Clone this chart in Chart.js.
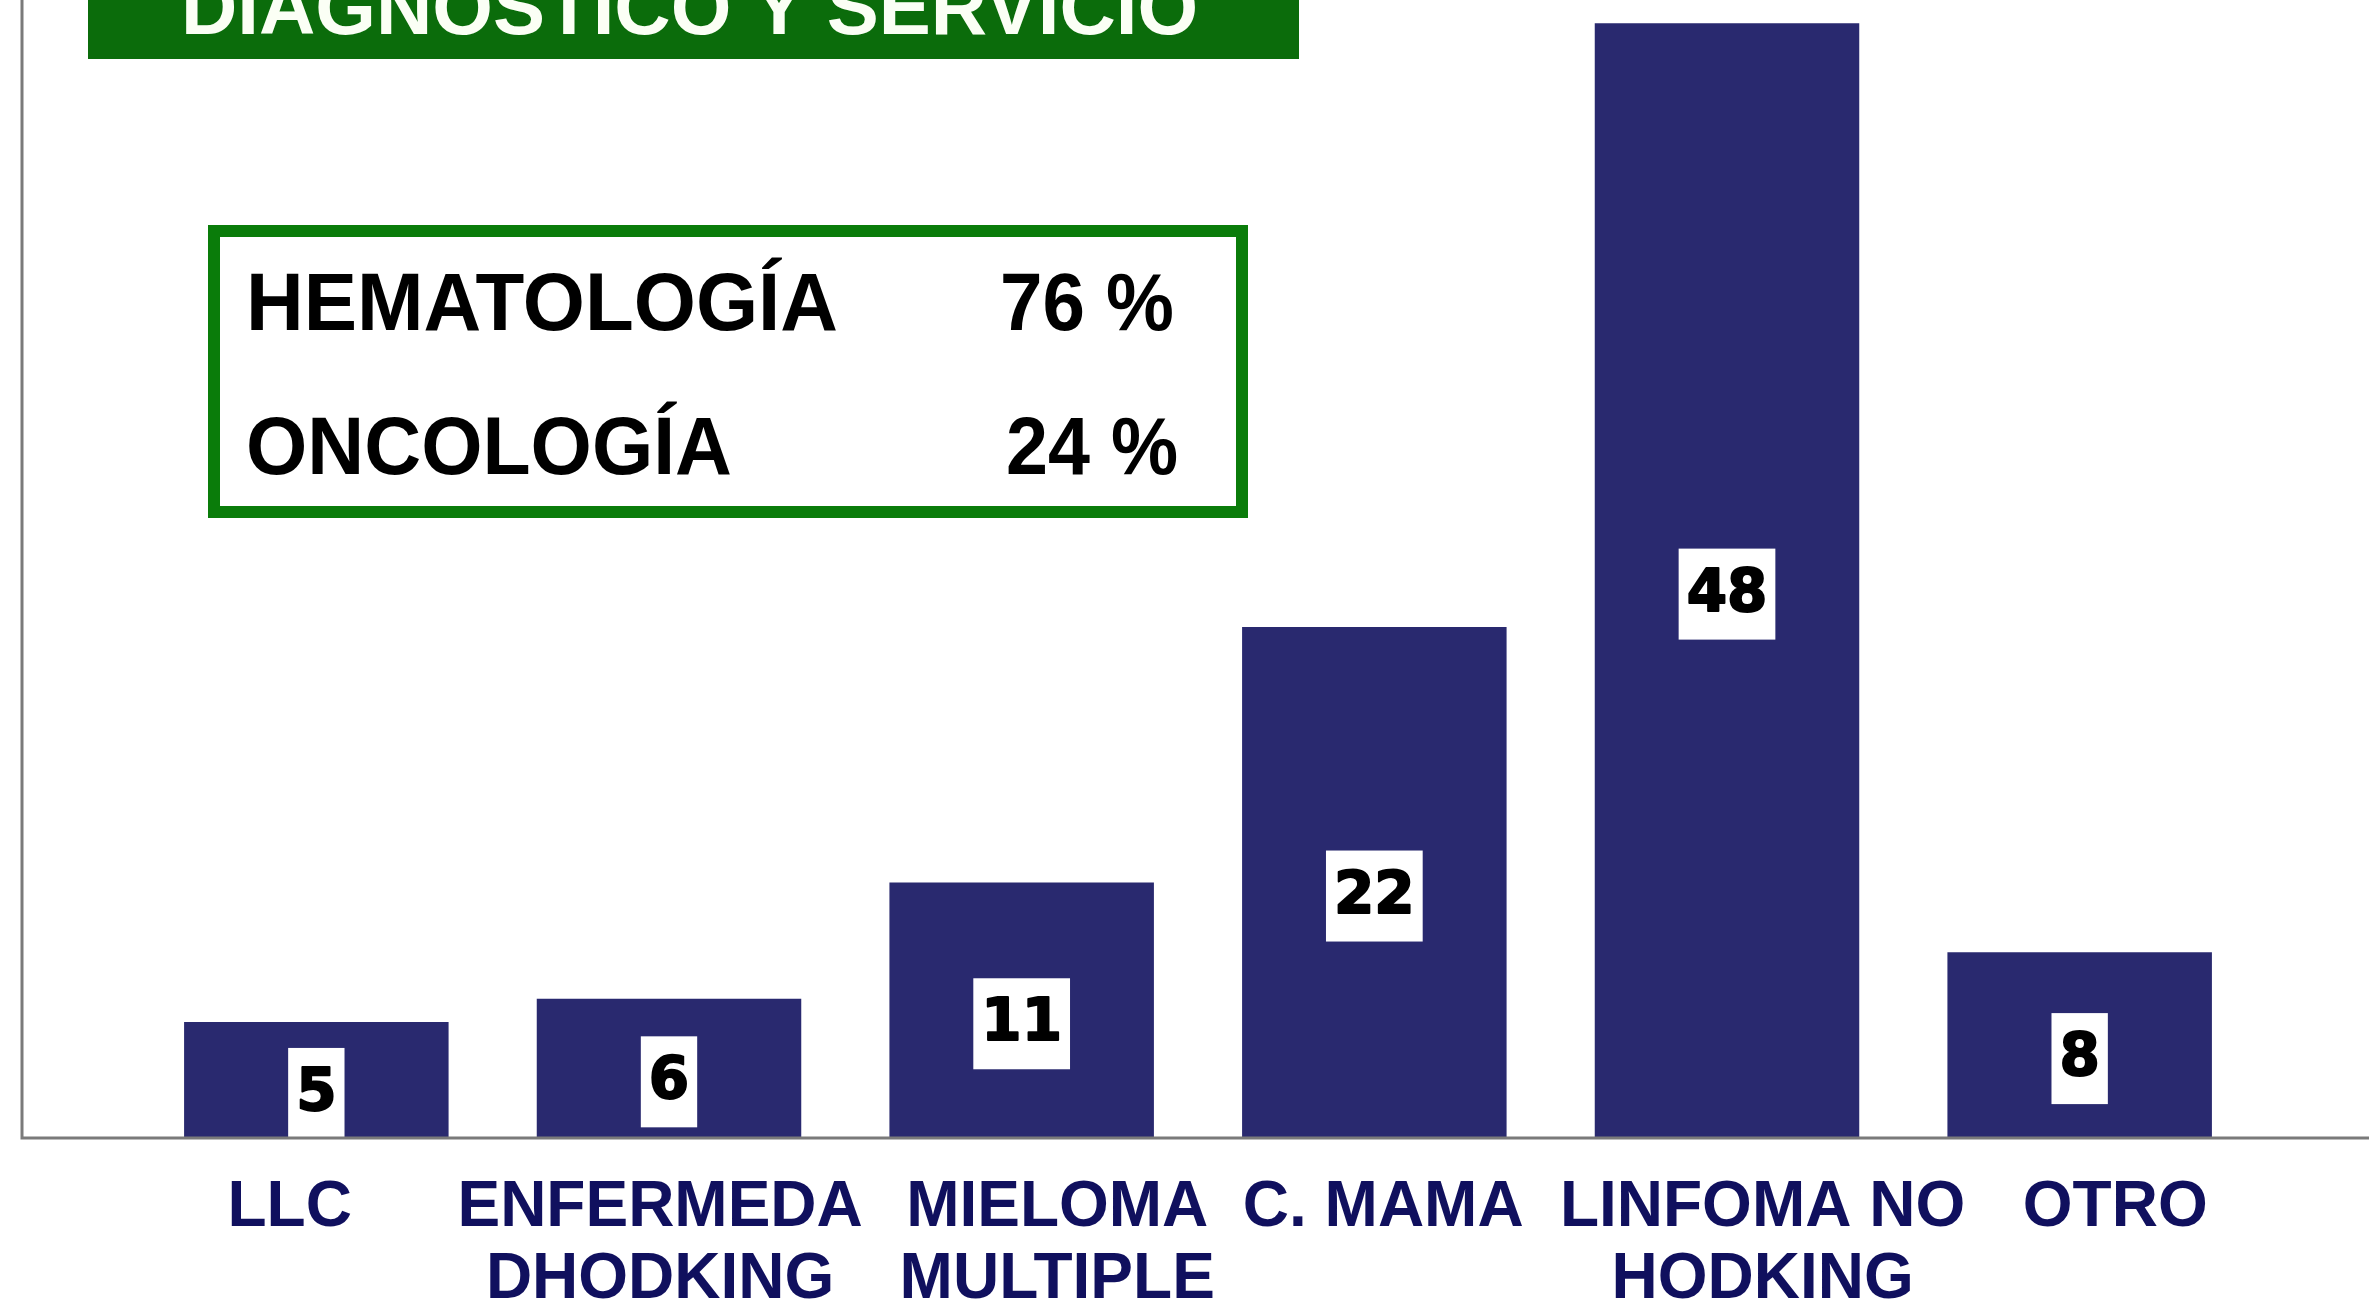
<!DOCTYPE html>
<html>
<head>
<meta charset="utf-8">
<script src="https://cdn.jsdelivr.net/npm/chart.js@4/dist/chart.umd.min.js"></script>
<style>
	html, body { margin: 0; padding: 0; background: #ffffff; }
	#wrap { width: 2369px; height: 1310px; position: relative; }
</style>
</head>
<body>
<div id="wrap"><canvas id="diag-viz"></canvas></div>
<script>
// Datos
var categorias = [ ['LLC'], ['ENFERMEDA', 'DHODKING'], ['MIELOMA', 'MULTIPLE'], ['C. MAMA'], ['LINFOMA NO', 'HODKING'], ['OTRO'] ];
var valores = [ 5, 6, 11, 22, 48, 8 ];

var titulo = 'DIAGNOSTICO Y SERVICIO';
var servicios = [ 'HEMATOLOGÍA', 'ONCOLOGÍA' ];
var servicios_pct = [ '76 %', '24 %' ];

// the slide's text boxes are not quite centred under the bars (in spaces, + = right)
var desplaz_etiquetas = [ -3, -1, 4, 1, 4, 4 ];


// white boxes with the value, a bit below the middle of each bar
var etiquetasPlugin = {
	id: 'etiquetas',
	afterDatasetsDraw: function(chart) {
		var ctx = chart.ctx;
		var meta = chart.getDatasetMeta(0);
		ctx.save();
		ctx.beginPath();
		ctx.rect(chart.chartArea.left, chart.chartArea.top, chart.chartArea.right - chart.chartArea.left, chart.chartArea.bottom - chart.chartArea.top);
		ctx.clip();
		ctx.font = 'bold 58px "DejaVu Sans"';
		ctx.textAlign = 'center';
		ctx.textBaseline = 'middle';
		ctx.lineWidth = 2;
		ctx.lineJoin = 'round';
		meta.data.forEach(function(bar, i) {
			var txt = String(valores[i]);
			var w = ctx.measureText(txt).width + 16;
			var cy = (bar.y + bar.base) / 2 + 13;
			ctx.fillStyle = '#ffffff';
			ctx.fillRect(bar.x - w / 2, cy - 45, w, 91);
			ctx.fillStyle = '#000000';
			ctx.strokeStyle = '#000000';
			ctx.fillText(txt, bar.x, cy + 2);
			ctx.strokeText(txt, bar.x, cy + 2);
		});
		ctx.restore();
	}
};

// axis lines, header banner and the summary box
var decorPlugin = {
	id: 'decor',
	afterDraw: function(chart) {
		var ctx = chart.ctx;
		var y0 = chart.scales.y.getPixelForValue(0);
		ctx.save();

		// L-shaped axis
		ctx.strokeStyle = '#7a7a7a';
		ctx.lineWidth = 3;
		ctx.beginPath();
		ctx.moveTo(22, 0);
		ctx.lineTo(22, y0);
		ctx.lineTo(chart.width, y0);
		ctx.stroke();

		// header banner (cut at the top)
		ctx.fillStyle = '#0b6c0b';
		ctx.fillRect(88, 0, 1211, 59);
		ctx.fillStyle = '#fbfff5';
		ctx.font = 'bold 78px "Liberation Sans"';
		ctx.textAlign = 'left';
		ctx.textBaseline = 'alphabetic';
		ctx.fillText(titulo, 181, 34, 1028);

		// summary box
		ctx.strokeStyle = '#0a7c0a';
		ctx.lineWidth = 12;
		ctx.strokeRect(214, 231, 1028, 281);
		ctx.fillStyle = '#000000';
		ctx.font = 'bold 81px "Liberation Sans"';
		ctx.fillText(servicios[0], 246, 330, 592);
		ctx.fillText(servicios[1], 246, 474, 486);
		ctx.fillText(servicios_pct[0], 1000, 330, 174);
		ctx.fillText(servicios_pct[1], 1006, 474, 172);

		ctx.restore();
	}
};


var ctx = document.getElementById('diag-viz');
var cfg = {
	type: 'bar',
	data: {
		labels: categorias,
		datasets: [ {
			data: valores,
			backgroundColor: '#29296f',
			borderWidth: 0,
			barPercentage: 0.75,
			categoryPercentage: 1.0
		} ]
	},
	options: {
		responsive: true,
		maintainAspectRatio: false,
		animation: false,
		devicePixelRatio: 1,
		layout: { padding: { left: 140, right: 113, top: 0, bottom: 0 } },
		plugins: {
			legend: { display: false },
			title: { display: false },
			tooltip: { enabled: false }
		},
		scales: {
			x: {
				grid: { display: false, drawTicks: false },
				border: { display: false },
				ticks: {
					color: '#10105e',
					font: { family: 'Liberation Sans', weight: 'bold', size: 64, lineHeight: 1.12 },
					padding: 35,
					maxRotation: 0,
					minRotation: 0,
					autoSkip: false,
					callback: function(value, index) {
						var n = desplaz_etiquetas[index];
						return categorias[index].map(function(s) {
							return n > 0 ? ' '.repeat(n) + s : s + ' '.repeat(-n);
						});
					}
				},
				afterFit: function(scale) { scale.height = 172; }
			},
			y: {
				display: false,
				min: 0,
				max: 49
			}
		}
	},
	plugins: [ etiquetasPlugin, decorPlugin ]
};
new Chart(ctx, cfg);
</script>
</body>
</html>
